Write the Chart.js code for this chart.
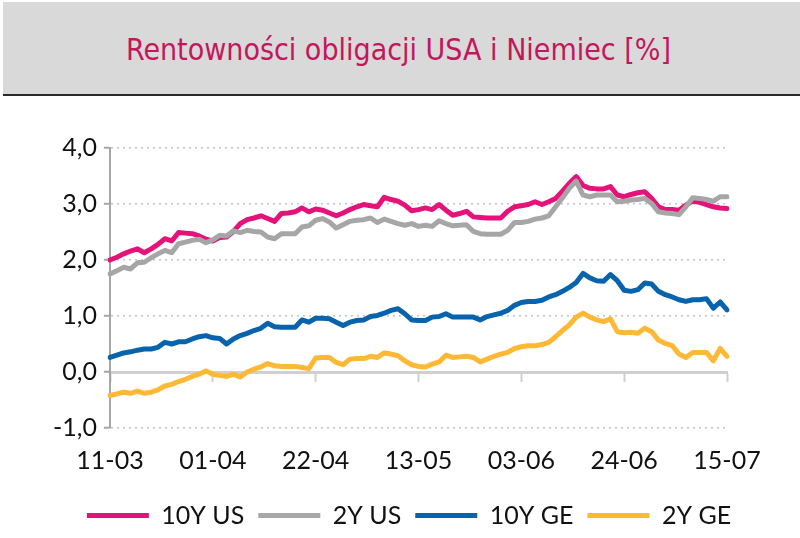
<!DOCTYPE html>
<html>
<head>
<meta charset="utf-8">
<script src="https://cdn.jsdelivr.net/npm/chart.js@4"></script>
<style>
  body { margin: 0; background: #fff; }
  #wrap { position: relative; width: 800px; height: 538px; overflow: hidden; }
  #band { position: absolute; left: 3px; top: 2px; width: 797px; height: 92px; background: #d9d9d9; border-bottom: 2px solid #2a2a2a; }
  #band h1 { margin: 0; font: 30px 'DejaVu Sans Condensed', 'DejaVu Sans', sans-serif; font-stretch: condensed; color: #c2185b; text-align: center; line-height: 96px; font-weight: normal; padding-right: 6px; }
  canvas { position: absolute; left: 0; top: 0; }
</style>
</head>
<body>
<div id="wrap">
  <div id="band"><h1>Rentowności obligacji USA i Niemiec [%]</h1></div>
  <canvas id="chart" width="800" height="538"></canvas>
</div>
<script>
// dni robocze 11-03 .. 15-07
const dates = [
  '11-03','14-03','15-03','16-03','17-03','18-03','21-03','22-03','23-03','24-03',
  '25-03','28-03','29-03','30-03','31-03','01-04','04-04','05-04','06-04','07-04',
  '08-04','11-04','12-04','13-04','14-04','15-04','18-04','19-04','20-04','21-04',
  '22-04','25-04','26-04','27-04','28-04','29-04','02-05','03-05','04-05','05-05',
  '06-05','09-05','10-05','11-05','12-05','13-05','16-05','17-05','18-05','19-05',
  '20-05','23-05','24-05','25-05','26-05','27-05','30-05','31-05','01-06','02-06',
  '03-06','06-06','07-06','08-06','09-06','10-06','13-06','14-06','15-06','16-06',
  '17-06','20-06','21-06','22-06','23-06','24-06','27-06','28-06','29-06','30-06',
  '01-07','04-07','05-07','06-07','07-07','08-07','11-07','12-07','13-07','14-07',
  '15-07'
];
const tickDates = ['11-03', '01-04', '22-04', '13-05', '03-06', '24-06', '15-07'];

const us10 = [
  2.00, 2.05, 2.11, 2.16, 2.20, 2.13, 2.20, 2.28, 2.38, 2.34,
  2.49, 2.48, 2.47, 2.43, 2.37, 2.34, 2.40, 2.41, 2.51, 2.65,
  2.72, 2.75, 2.79, 2.74, 2.69, 2.83, 2.84, 2.86, 2.93, 2.86,
  2.91, 2.89, 2.84, 2.79, 2.84, 2.90, 2.95, 2.99, 2.97, 2.95,
  3.12, 3.08, 3.05, 2.98, 2.88, 2.90, 2.93, 2.90, 2.99, 2.89,
  2.80, 2.83, 2.87, 2.77, 2.76, 2.75, 2.75, 2.75, 2.87, 2.95,
  2.97, 2.99, 3.04, 2.99, 3.04, 3.10, 3.23, 3.37, 3.49, 3.33,
  3.28, 3.27, 3.27, 3.31, 3.16, 3.13, 3.17, 3.20, 3.22, 3.10,
  2.95, 2.90, 2.90, 2.89, 2.98, 3.05, 3.03, 2.99, 2.95, 2.93,
  2.92
];
const us2 = [
  1.75, 1.81, 1.87, 1.84, 1.95, 1.96, 2.04, 2.11, 2.17, 2.13,
  2.29, 2.32, 2.35, 2.37, 2.31, 2.36, 2.44, 2.43, 2.52, 2.49,
  2.53, 2.51, 2.50, 2.41, 2.38, 2.47, 2.47, 2.47, 2.59, 2.61,
  2.71, 2.74, 2.68, 2.57, 2.63, 2.69, 2.71, 2.72, 2.75, 2.67,
  2.73, 2.69, 2.65, 2.62, 2.65, 2.60, 2.62, 2.60, 2.70, 2.65,
  2.61, 2.62, 2.63, 2.51, 2.47, 2.46, 2.46, 2.46, 2.53, 2.67,
  2.67, 2.69, 2.73, 2.75, 2.79, 2.95, 3.11, 3.28, 3.41, 3.16,
  3.13, 3.16, 3.16, 3.16, 3.04, 3.05, 3.07, 3.08, 3.10, 3.01,
  2.86, 2.84, 2.83, 2.81, 2.95, 3.11, 3.10, 3.08, 3.05, 3.13,
  3.13
];
const ge10 = [
  0.26, 0.30, 0.34, 0.36, 0.39, 0.41, 0.41, 0.44, 0.53, 0.50,
  0.54, 0.54, 0.59, 0.63, 0.65, 0.61, 0.60, 0.50, 0.59, 0.65,
  0.69, 0.74, 0.78, 0.87, 0.81, 0.80, 0.80, 0.80, 0.93, 0.89,
  0.96, 0.96, 0.95, 0.89, 0.83, 0.89, 0.92, 0.93, 0.99, 1.01,
  1.05, 1.10, 1.13, 1.04, 0.93, 0.92, 0.92, 0.98, 0.99, 1.04,
  0.98, 0.98, 0.98, 0.98, 0.93, 0.99, 1.02, 1.05, 1.10, 1.19,
  1.24, 1.26, 1.26, 1.28, 1.34, 1.38, 1.44, 1.51, 1.60, 1.76,
  1.68, 1.63, 1.62, 1.74, 1.63, 1.46, 1.44, 1.47, 1.59, 1.57,
  1.44, 1.38, 1.34, 1.29, 1.26, 1.29, 1.29, 1.31, 1.14, 1.25,
  1.11
];
const ge2 = [
  -0.42, -0.39, -0.36, -0.38, -0.34, -0.38, -0.36, -0.32, -0.25, -0.22,
  -0.17, -0.13, -0.08, -0.04, 0.02, -0.04, -0.06, -0.08, -0.04, -0.09,
  0.00, 0.05, 0.09, 0.15, 0.11, 0.10, 0.10, 0.10, 0.08, 0.06,
  0.25, 0.26, 0.26, 0.17, 0.13, 0.23, 0.24, 0.24, 0.28, 0.26,
  0.34, 0.32, 0.29, 0.20, 0.13, 0.10, 0.09, 0.14, 0.18, 0.30,
  0.26, 0.27, 0.28, 0.26, 0.18, 0.23, 0.28, 0.32, 0.35, 0.42,
  0.45, 0.47, 0.47, 0.49, 0.53, 0.63, 0.74, 0.84, 0.98, 1.05,
  0.98, 0.93, 0.90, 0.95, 0.72, 0.70, 0.71, 0.69, 0.78, 0.72,
  0.57, 0.51, 0.47, 0.32, 0.26, 0.35, 0.35, 0.35, 0.20, 0.42,
  0.28
];

const textColor = '#111';
const axisGray = '#a6a6a6';
const zeroGray = '#d0d0d0';

Chart.defaults.font.family = 'Lato, "Open Sans", sans-serif';
Chart.defaults.font.size = 25;
Chart.defaults.color = textColor;

function line(label, data, color, order) {
    return {
        label, data, order,
        borderColor: color, backgroundColor: color,
        borderWidth: 5, borderCapStyle: 'round', borderJoinStyle: 'round',
        pointRadius: 0, tension: 0, fill: false
    };
}

new Chart(document.getElementById('chart'), {
    type: 'line',
    data: {
        labels: dates,
        datasets: [
            line('10Y US', us10, '#e5127a', 1),
            line('2Y US', us2, '#a6a6a6', 0),
            line('10Y GE', ge10, '#0863ad', 2),
            line('2Y GE', ge2, '#fdb836', 3)
        ]
    },
    options: {
        responsive: false,
        animation: false,
        layout: { padding: { left: 49, right: 31, top: 148, bottom: 0 } },
        plugins: {
            title: { display: false },
            tooltip: { enabled: false },
            legend: {
                position: 'bottom',
                labels: {
                    usePointStyle: true, pointStyle: 'line', pointStyleWidth: 62,
                    padding: 14, color: textColor, font: { size: 25 },
                    sort: (a, b) => a.datasetIndex - b.datasetIndex
                }
            }
        },
        scales: {
            x: {
                ticks: {
                    autoSkip: false, maxRotation: 0, padding: 18,
                    callback: (v, i) => tickDates.includes(dates[i]) ? dates[i] : ''
                },
                grid: { display: false, drawTicks: false },
                border: { display: false },
                afterFit: s => { s.height = 61; }
            },
            x2: {
                type: 'category', axis: 'x', labels: dates, position: { y: 0 },
                ticks: { display: false },
                grid: {
                    drawOnChartArea: false, drawTicks: true, tickLength: 8, tickWidth: 2,
                    tickColor: ctx => tickDates.includes(dates[ctx.index]) ? zeroGray : 'rgba(0,0,0,0)'
                },
                border: { display: true, color: zeroGray, width: 3 }
            },
            y: {
                min: -1, max: 4,
                ticks: {
                    stepSize: 1, padding: 7,
                    callback: v => v.toFixed(1).replace('.', ',')
                },
                grid: { color: '#c4c4c4', lineWidth: 1.5, drawTicks: true, tickLength: 6, tickColor: axisGray, tickWidth: 2 },
                border: { display: true, color: axisGray, width: 2, dash: [2, 4] },
                afterFit: s => { s.width = 61; }
            },
            yRight: {
                type: 'linear', axis: 'y', position: 'right', min: -1, max: 4,
                ticks: { display: false },
                grid: { display: false },
                border: { display: false },
                afterFit: s => { s.width = 42; }
            }
        }
    }
});
</script>
</body>
</html>
